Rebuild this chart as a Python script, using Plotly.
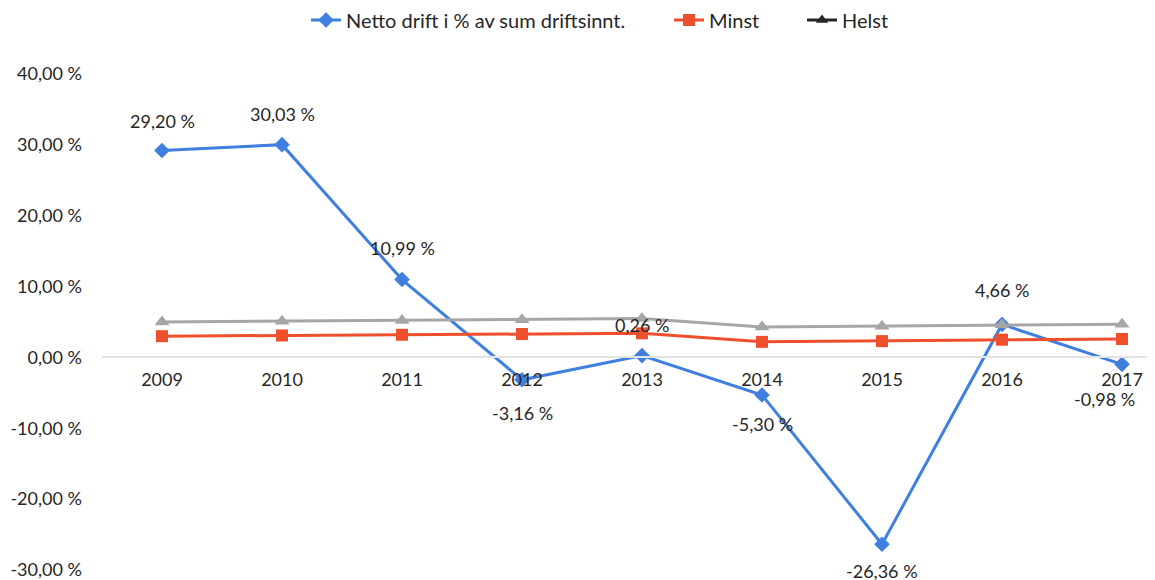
import plotly.graph_objects as go

years = ["2009", "2010", "2011", "2012", "2013", "2014", "2015", "2016", "2017"]
netto = [29.20, 30.03, 10.99, -3.16, 0.26, -5.30, -26.36, 4.66, -0.98]
minst = [3.0, 3.1, 3.2, 3.3, 3.4, 2.2, 2.3, 2.5, 2.6]
helst = [5.0, 5.1, 5.2, 5.3, 5.5, 4.3, 4.4, 4.6, 4.7]
y_ticks = [-30, -20, -10, 0, 10, 20, 30, 40]

# label placement (style, not data)
label_dy = [30, 31, 32, -33, 31, -29, -27, 34, -35]
label_dx = [0, 0, 0, 0, 0, 0, 0, 0, -18]

BLUE = "#3F7FDF"
RED = "#EE4F2C"
GRAY = "#A6A6A6"
FONT = "Lato, 'Open Sans', sans-serif"
TXT = "#262626"
W, H = 1155, 580
OFF = 8  # page body offset

def pct(v):
    return f"{v:.2f}".replace(".", ",") + " %"

fig = go.Figure()
fig.add_trace(go.Scatter(x=years, y=netto, mode="lines+markers", name="Netto drift i % av sum driftsinnt.",
                         legend="legend",
                         line=dict(color=BLUE, width=3), marker=dict(symbol="diamond", size=12, color=BLUE)))
fig.add_trace(go.Scatter(x=years, y=minst, mode="lines+markers", name="Minst", legend="legend2",
                         line=dict(color=RED, width=3), marker=dict(symbol="square", size=12, color=RED)))
fig.add_trace(go.Scatter(x=years, y=helst, mode="lines+markers", name="Helst", showlegend=False,
                         line=dict(color=GRAY, width=3), marker=dict(symbol="triangle-up", size=13, color=GRAY)))
# legend entry for Helst (legend drawn in dark colour as in the reference)
fig.add_trace(go.Scatter(x=[None], y=[None], mode="lines+markers", name="Helst", legend="legend3",
                         line=dict(color="#262626", width=3), marker=dict(symbol="triangle-up", size=11, color="#262626")))

annotations = []
for i, v in enumerate(netto):
    annotations.append(dict(x=i, y=v, xref="x", yref="y", text=pct(v), showarrow=False,
                            yshift=label_dy[i], xshift=label_dx[i],
                            font=dict(family=FONT, size=18, color=TXT)))

def leg(xpx):
    return dict(orientation="h", x=(xpx - OFF) / W, xanchor="left", xref="container",
                y=1 - (20 - OFF) / H, yanchor="middle", yref="container",
                font=dict(family=FONT, size=20, color=TXT), bgcolor="rgba(0,0,0,0)")

fig.update_layout(
    width=W, height=H,
    margin=dict(l=102 - OFF, r=OFF, t=74 - OFF, b=10 + OFF, autoexpand=False),
    paper_bgcolor="white", plot_bgcolor="white",
    font=dict(family=FONT, size=16, color=TXT),
    showlegend=True,
    annotations=annotations,
    legend=leg(306),
    legend2=leg(669),
    legend3=leg(802),
    xaxis=dict(type="category", range=[-0.5, 8.275], anchor="free", position=30 / 70,
               showline=True, linecolor="#E3E3E3", linewidth=2, showgrid=False, ticks="",
               tickfont=dict(family=FONT, size=18, color=TXT), ticklabelstandoff=6),
    yaxis=dict(range=[-30, 40], tickvals=y_ticks, ticktext=[pct(v) for v in y_ticks],
               showgrid=False, zeroline=False, showline=False, ticks="",
               tickfont=dict(family=FONT, size=18, color=TXT), ticklabelstandoff=19),
)

fig.write_html("out.html")
